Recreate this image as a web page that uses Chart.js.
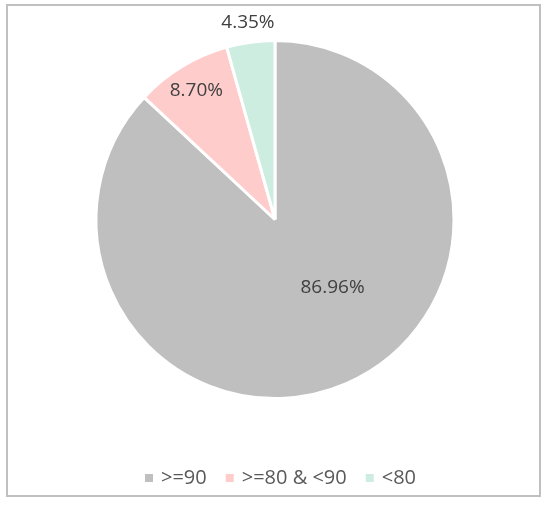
<!DOCTYPE html>
<html>
<head>
<meta charset="utf-8">
<script src="https://cdn.jsdelivr.net/npm/chart.js@4"></script>
<style>
  html, body { margin: 0; padding: 0; background: #fff; font-family: "Open Sans", sans-serif; }
  #frame {
    position: absolute; left: 6px; top: 4px;
    width: 535px; height: 493px;
    box-sizing: border-box;
    border: 2px solid #c0c0c0;
  }
  #chart { display: block; }
</style>
</head>
<body>
<div id="frame"><canvas id="chart" width="531" height="489"></canvas></div>
<script>
// ── Data ───────────────────────────────────────────
const categories = ['>=90', '>=80 & <90', '<80'];
const percents   = [86.96, 8.70, 4.35];
const colors     = ['#bfbfbf', '#ffcccc', '#ccede0'];

const FONT = '"Open Sans", "Noto Sans", sans-serif';

// label placement: fraction of radius, and an optional angle (deg) override
const labelRadius = [0.50, 0.845, 1.11];
const labelAngle  = [50, null, null];

const sliceLabels = {
  id: 'sliceLabels',
  afterDatasetsDraw(chart) {
    const { ctx } = chart;
    const meta = chart.getDatasetMeta(0);
    ctx.save();
    ctx.font = '19px ' + FONT;
    ctx.fillStyle = '#404040';
    ctx.textAlign = 'center';
    ctx.textBaseline = 'middle';
    meta.data.forEach((arc, i) => {
      const mid = labelAngle[i] !== null
        ? labelAngle[i] * Math.PI / 180
        : (arc.startAngle + arc.endAngle) / 2;
      const r = arc.outerRadius * labelRadius[i];
      ctx.fillText(percents[i].toFixed(2) + '%',
        arc.x + Math.cos(mid) * r, arc.y + Math.sin(mid) * r);
    });
    ctx.restore();
  }
};

// ── Bottom legend (drawn by hand to match the spacing) ──
const bottomLegend = {
  id: 'bottomLegend',
  afterDraw(chart) {
    const { ctx, width } = chart;
    const box = 8, gapText = 8, gapItem = 19;
    const y = 472;
    ctx.save();
    ctx.font = '20px ' + FONT;
    ctx.textBaseline = 'middle';
    const widths = categories.map(c => ctx.measureText(c).width);
    const total = widths.reduce((s, w) => s + box + gapText + w, 0) + gapItem * (categories.length - 1);
    let x = (width - total) / 2 + 7;
    categories.forEach((c, i) => {
      ctx.fillStyle = colors[i];
      ctx.fillRect(x, y - box / 2, box, box);
      x += box + gapText;
      ctx.fillStyle = '#595959';
      ctx.fillText(c, x, y);
      x += widths[i] + gapItem;
    });
    ctx.restore();
  }
};

function draw() {
  new Chart(document.getElementById('chart'), {
    type: 'pie',
    data: {
      labels: categories,
      datasets: [{
        data: percents,
        backgroundColor: colors,
        borderColor: '#ffffff',
        borderWidth: 3,
      }]
    },
    options: {
      responsive: false,
      animation: false,
      layout: { padding: { top: 33, bottom: 95, left: 3, right: 0 } },
      plugins: {
        tooltip: { enabled: false },
        legend: { display: false }
      }
    },
    plugins: [sliceLabels, bottomLegend]
  });
}

// make sure the installed font is ready before drawing on the canvas
document.fonts.load('19px "Open Sans"').then(draw, draw);
</script>
</body>
</html>
